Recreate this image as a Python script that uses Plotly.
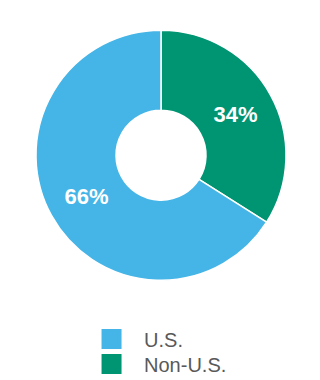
import plotly.graph_objects as go

labels = ["Non-U.S.", "U.S."]
values = [34, 66]
text_labels = ["34%", "66%"]
colors = ["#009572", "#45B4E6"]

legend_labels = ["U.S.", "Non-U.S."]
legend_colors = ["#45B4E6", "#009572"]
legend_ids = ["legend", "legend2"]

FONT = "Liberation Sans, Arial, sans-serif"

fig = go.Figure()
fig.add_trace(go.Pie(
    labels=labels,
    values=values,
    text=text_labels,
    textinfo="text",
    textposition="inside",
    insidetextorientation="horizontal",
    insidetextfont=dict(family=FONT, size=22, color="white", weight="bold"),
    hole=0.36,
    sort=False,
    direction="clockwise",
    rotation=0,
    marker=dict(colors=colors, line=dict(color="white", width=1.5)),
    domain=dict(x=[0.00625, 1], y=[0.2625, 0.9204]),
    hoverinfo="label+percent",
    showlegend=False,
))

for lab, col, lid in zip(legend_labels, legend_colors, legend_ids):
    fig.add_trace(go.Scatter(
        x=[None], y=[None], mode="markers", name=lab, legend=lid,
        marker=dict(symbol="square", size=16, color=col, line=dict(color=col, width=4)),
        showlegend=True, hoverinfo="skip",
    ))

legend_style = dict(
    orientation="v",
    x=0.247,
    xanchor="left",
    yanchor="middle",
    itemwidth=55,
    itemsizing="trace",
    font=dict(family=FONT, size=20, color="#595959"),
    bgcolor="rgba(0,0,0,0)",
)

fig.update_layout(
    width=320,
    height=380,
    margin=dict(l=0, r=0, t=0, b=0, autoexpand=False),
    paper_bgcolor="white",
    plot_bgcolor="white",
    xaxis=dict(visible=False),
    yaxis=dict(visible=False),
    showlegend=True,
    legend=dict(y=0.1079, **legend_style),
    legend2=dict(y=0.0421, **legend_style),
)

fig.write_html("out.html")
